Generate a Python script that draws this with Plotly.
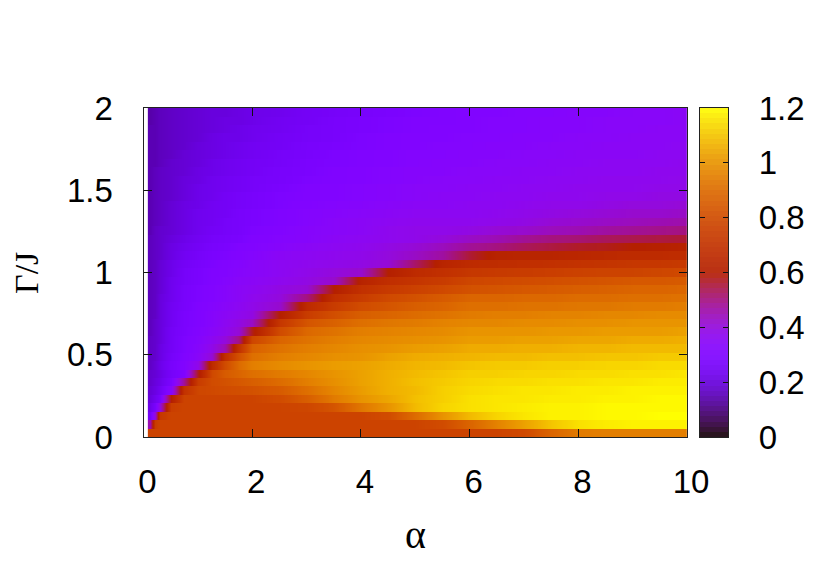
import numpy as np
import plotly.graph_objects as go

alpha = [0.12,0.2,0.3,0.5,0.75,1,1.25,1.5,1.75,2,2.5,3,3.5,4,4.5,5,5.5,6,6.5,7,7.5,8,8.5,9,9.5,10]

# z * 100 for each Gamma row, bottom to top
row_00 = [77,77,77,77,77,77,77,77,77,77,77,77,77,77,77,77,77,77,77,79,88,94,95,95,95,95]
row_01 = [45,74,77,77,77,77,77,77,77,77,77,77,77,77,77,77,80,88,96,103,110,115,117,118,118,118]
row_02 = [25,40,72,77,77,77,77,77,77,77,77,77,77,77,80,90,100,108,113,116,118,118,119,119,120,120]
row_03 = [22,27,40,75,77,77,77,77,77,77,77,78,83,93,100,108,113,115,116,117,118,118,119,119,119,119]
row_04 = [20,23,27,60,77,77,77,77,77,77,80,86,94,100,104,109,112,115,116,116,117,117,118,118,119,119]
row_05 = [19,21,24,33,70,78,79,80,81,82,85,91,97,102,106,108,112,114,115,116,116,117,117,118,118,118]
row_06 = [18,20,22,28,48,74,80,82,84,86,90,95,99,103,106,109,111,113,114,114,115,115,116,116,117,117]
row_07 = [18,19,21,26,30,58,79,85,88,91,94,97,100,103,106,108,110,112,112,113,113,114,114,115,115,116]
row_08 = [17,19,22,27,31,38,66,80,90,95,98,100,102,103,105,107,108,110,111,111,112,112,113,113,114,114]
row_09 = [17,18,21,26,30,34,41,68,82,91,95,97,99,100,103,105,106,107,108,108,109,109,110,110,111,111]
row_10 = [17,18,21,25,29,33,38,45,70,87,92,95,97,99,100,102,103,105,105,106,106,107,107,108,108,108]
row_11 = [17,18,20,25,29,32,36,40,50,78,88,92,95,97,98,99,100,102,102,103,103,104,104,105,105,106]
row_12 = [16,18,20,25,28,31,34,37,41,58,80,89,92,95,96,97,98,100,100,100,101,101,102,102,102,103]
row_13 = [16,18,20,24,28,30,33,36,39,43,72,83,87,91,93,94,96,97,97,98,98,99,99,100,100,100]
row_14 = [16,17,20,24,28,30,33,35,37,39,60,74,81,86,88,90,92,94,95,95,96,96,97,97,98,98]
row_15 = [16,17,20,24,27,30,32,34,36,38,42,66,74,80,83,86,88,91,91,92,92,93,93,94,94,95]
row_16 = [16,17,20,23,27,29,31,33,35,37,40,50,68,74,79,82,85,88,88,89,89,90,90,91,91,92]
row_17 = [16,17,19,23,27,29,31,33,35,36,39,41,60,69,73,76,79,82,83,84,85,86,87,88,88,89]
row_18 = [16,17,19,23,26,28,30,32,34,35,37,39,42,62,68,71,74,78,79,80,81,82,83,84,84,85]
row_19 = [16,17,19,22,26,28,30,31,33,34,36,38,40,42,60,66,69,72,73,74,75,76,77,77,78,79]
row_20 = [16,17,19,22,25,27,29,31,32,34,36,37,38,39,41,52,63,66,67,68,69,70,71,72,72,73]
row_21 = [16,17,18,21,24,26,28,29,31,32,35,36,37,38,40,43,47,56,62,63,63,64,65,66,66,67]
row_22 = [16,17,18,21,23,25,27,28,30,31,33,35,36,37,39,41,44,48,50,53,55,57,58,60,61,62]
row_23 = [16,17,18,20,22,24,26,27,28,30,32,33,35,36,37,38,40,43,45,48,50,51,53,54,55,56]
row_24 = [15,17,18,19,21,23,25,26,27,29,31,33,34,35,37,38,38,39,41,42,44,45,47,48,49,50]
row_25 = [15,16,17,19,21,23,24,26,27,28,30,32,34,35,36,37,37,37,38,39,41,42,43,44,45,46]
row_26 = [15,16,17,19,21,23,24,25,27,28,30,32,33,34,35,36,36,36,37,38,39,40,41,42,42,43]
row_27 = [15,16,17,19,21,22,24,25,26,27,29,31,32,33,34,35,35,36,36,37,38,38,39,40,40,41]
row_28 = [15,16,17,18,20,22,23,25,26,27,29,30,31,32,33,34,35,35,36,36,37,37,38,38,39,39]
row_29 = [15,16,17,18,20,22,23,24,25,26,28,30,31,32,33,34,34,35,35,36,36,37,37,37,38,38]
row_30 = [15,16,17,18,20,21,23,24,25,26,27,29,30,31,32,33,34,34,35,35,36,36,37,37,37,38]
row_31 = [15,16,17,18,19,21,22,23,24,25,27,28,30,31,32,33,33,34,34,35,35,36,36,36,37,37]
row_32 = [15,15,16,18,19,20,22,23,24,25,26,28,29,30,31,32,33,33,34,34,35,35,36,36,36,37]
row_33 = [15,15,16,17,19,20,21,22,23,24,26,27,29,30,31,32,32,33,33,34,34,35,35,35,36,36]
row_34 = [15,15,16,17,18,20,21,22,23,24,25,27,28,29,30,31,32,32,33,33,34,34,35,35,35,36]
row_35 = [15,15,16,17,18,19,21,22,22,23,25,26,27,29,30,31,31,32,32,33,33,34,34,35,35,35]
row_36 = [15,15,16,17,18,19,20,21,22,23,24,26,27,28,29,30,31,31,32,32,33,33,34,34,35,35]
row_37 = [14,15,16,17,18,19,20,21,21,22,24,25,27,28,29,30,30,31,32,32,33,33,34,34,34,35]
row_38 = [14,15,16,17,18,19,20,20,21,22,23,25,26,27,28,29,30,31,31,32,32,33,33,34,34,35]

rows = [row_00,row_01,row_02,row_03,row_04,row_05,row_06,row_07,row_08,row_09,
        row_10,row_11,row_12,row_13,row_14,row_15,row_16,row_17,row_18,row_19,
        row_20,row_21,row_22,row_23,row_24,row_25,row_26,row_27,row_28,row_29,
        row_30,row_31,row_32,row_33,row_34,row_35,row_36,row_37,row_38]

x_ticks = [0, 2, 4, 6, 8, 10]
y_ticks = [0, 0.5, 1, 1.5, 2]
y_labels = ["0", "0.5", "1", "1.5", "2"]
cb_ticks = [0, 0.2, 0.4, 0.6, 0.8, 1, 1.2]
cb_labels = ["0", "0.2", "0.4", "0.6", "0.8", "1", "1.2"]

W, H = 830, 581
PAGE = 8.0  # the page body adds this offset on the left and top
L, R, T, B = 143.5 - PAGE, 687.0 - PAGE, 108.0 - PAGE, 437.0 - PAGE
CL, CR = 700.0 - PAGE, 728.0 - PAGE

edges = np.linspace(0, 2, len(rows) + 1)
eps = 0.0004
gamma = np.column_stack([edges[:-1] + eps, edges[1:] - eps]).ravel()
z = np.repeat(np.array(rows, dtype=float) / 100.0, 2, axis=0)

t = np.linspace(0, 1, 129)
r_ = np.sqrt(t)
g_ = t ** 3
b_ = np.clip(np.sin(2 * np.pi * t), 0, 1)
palette = [[float(v), f"rgb({int(round(a*255))},{int(round(b*255))},{int(round(c*255))})"]
           for v, a, b, c in zip(t, r_, g_, b_)]

cb_edges = np.linspace(0, 1.2, 65)
cb_z = ((cb_edges[:-1] + cb_edges[1:]) / 2).reshape(-1, 1)

AX = "#222222"
SANS = "Liberation Sans"
SERIF = "Liberation Serif"

fig = go.Figure()
fig.add_trace(go.Heatmap(x=alpha, y=gamma, z=z, coloraxis="coloraxis", zsmooth="best",
                         hoverinfo="skip"))
fig.add_trace(go.Heatmap(x=[0, 1], y=cb_edges, z=cb_z, coloraxis="coloraxis", opacity=0.92,
                         xaxis="x2", yaxis="y2", hoverinfo="skip"))

fig.update_layout(
    width=W, height=H, autosize=False,
    margin=dict(l=0, r=0, t=0, b=0, pad=0, autoexpand=False),
    paper_bgcolor="white", plot_bgcolor="white",
    showlegend=False,
    font=dict(family=SANS, color="black", size=33),
    coloraxis=dict(cmin=0, cmax=1.2, colorscale=palette, showscale=False),
    xaxis=dict(domain=[L / W, R / W], range=[0, 10], tickmode="array", tickvals=x_ticks,
               ticks="inside", ticklen=8, tickwidth=1, tickcolor="#111111",
               showline=True, linecolor=AX, linewidth=1.3, mirror="ticks", showgrid=False,
               zeroline=False, layer="above traces", ticklabelshift=4, ticklabelstandoff=15,
               automargin=False, tickfont=dict(family=SANS, size=33)),
    yaxis=dict(domain=[1 - B / H, 1 - T / H], range=[0, 2], tickmode="array", tickvals=y_ticks,
               ticktext=y_labels, ticks="inside", ticklen=8, tickwidth=1, tickcolor="#111111",
               showline=True, linecolor=AX, linewidth=1.3, mirror="ticks", showgrid=False,
               zeroline=False, layer="above traces", ticklabelstandoff=23,
               automargin=False, tickfont=dict(family=SANS, size=33)),
    xaxis2=dict(domain=[CL / W, CR / W], range=[0, 1], anchor="y2", showticklabels=False,
                ticks="", showline=True, linecolor=AX, linewidth=1.3, mirror=True,
                showgrid=False, zeroline=False, automargin=False),
    yaxis2=dict(domain=[1 - B / H, 1 - T / H], range=[0, 1.2], anchor="x2", side="right",
                tickmode="array", tickvals=cb_ticks, ticktext=cb_labels, ticks="inside",
                ticklen=5, tickwidth=1, tickcolor="#111111", showline=True, linecolor=AX,
                linewidth=1.3, mirror="ticks", showgrid=False, zeroline=False,
                layer="above traces", ticklabelstandoff=23, automargin=False,
                tickfont=dict(family=SANS, size=33)),
    annotations=[
        dict(text="α", x=(415 - PAGE) / W, y=1 - (534 - PAGE) / H, xref="paper", yref="paper",
             xanchor="center", yanchor="middle", showarrow=False,
             font=dict(family=SERIF, size=40, color="black")),
        dict(text="Γ/J", x=(26 - PAGE) / W, y=1 - (273 - PAGE) / H, xref="paper", yref="paper",
             textangle=-90, xanchor="center", yanchor="middle", showarrow=False,
             font=dict(family=SERIF, size=34, color="black")),
    ],
)

fig.write_html("out.html")
